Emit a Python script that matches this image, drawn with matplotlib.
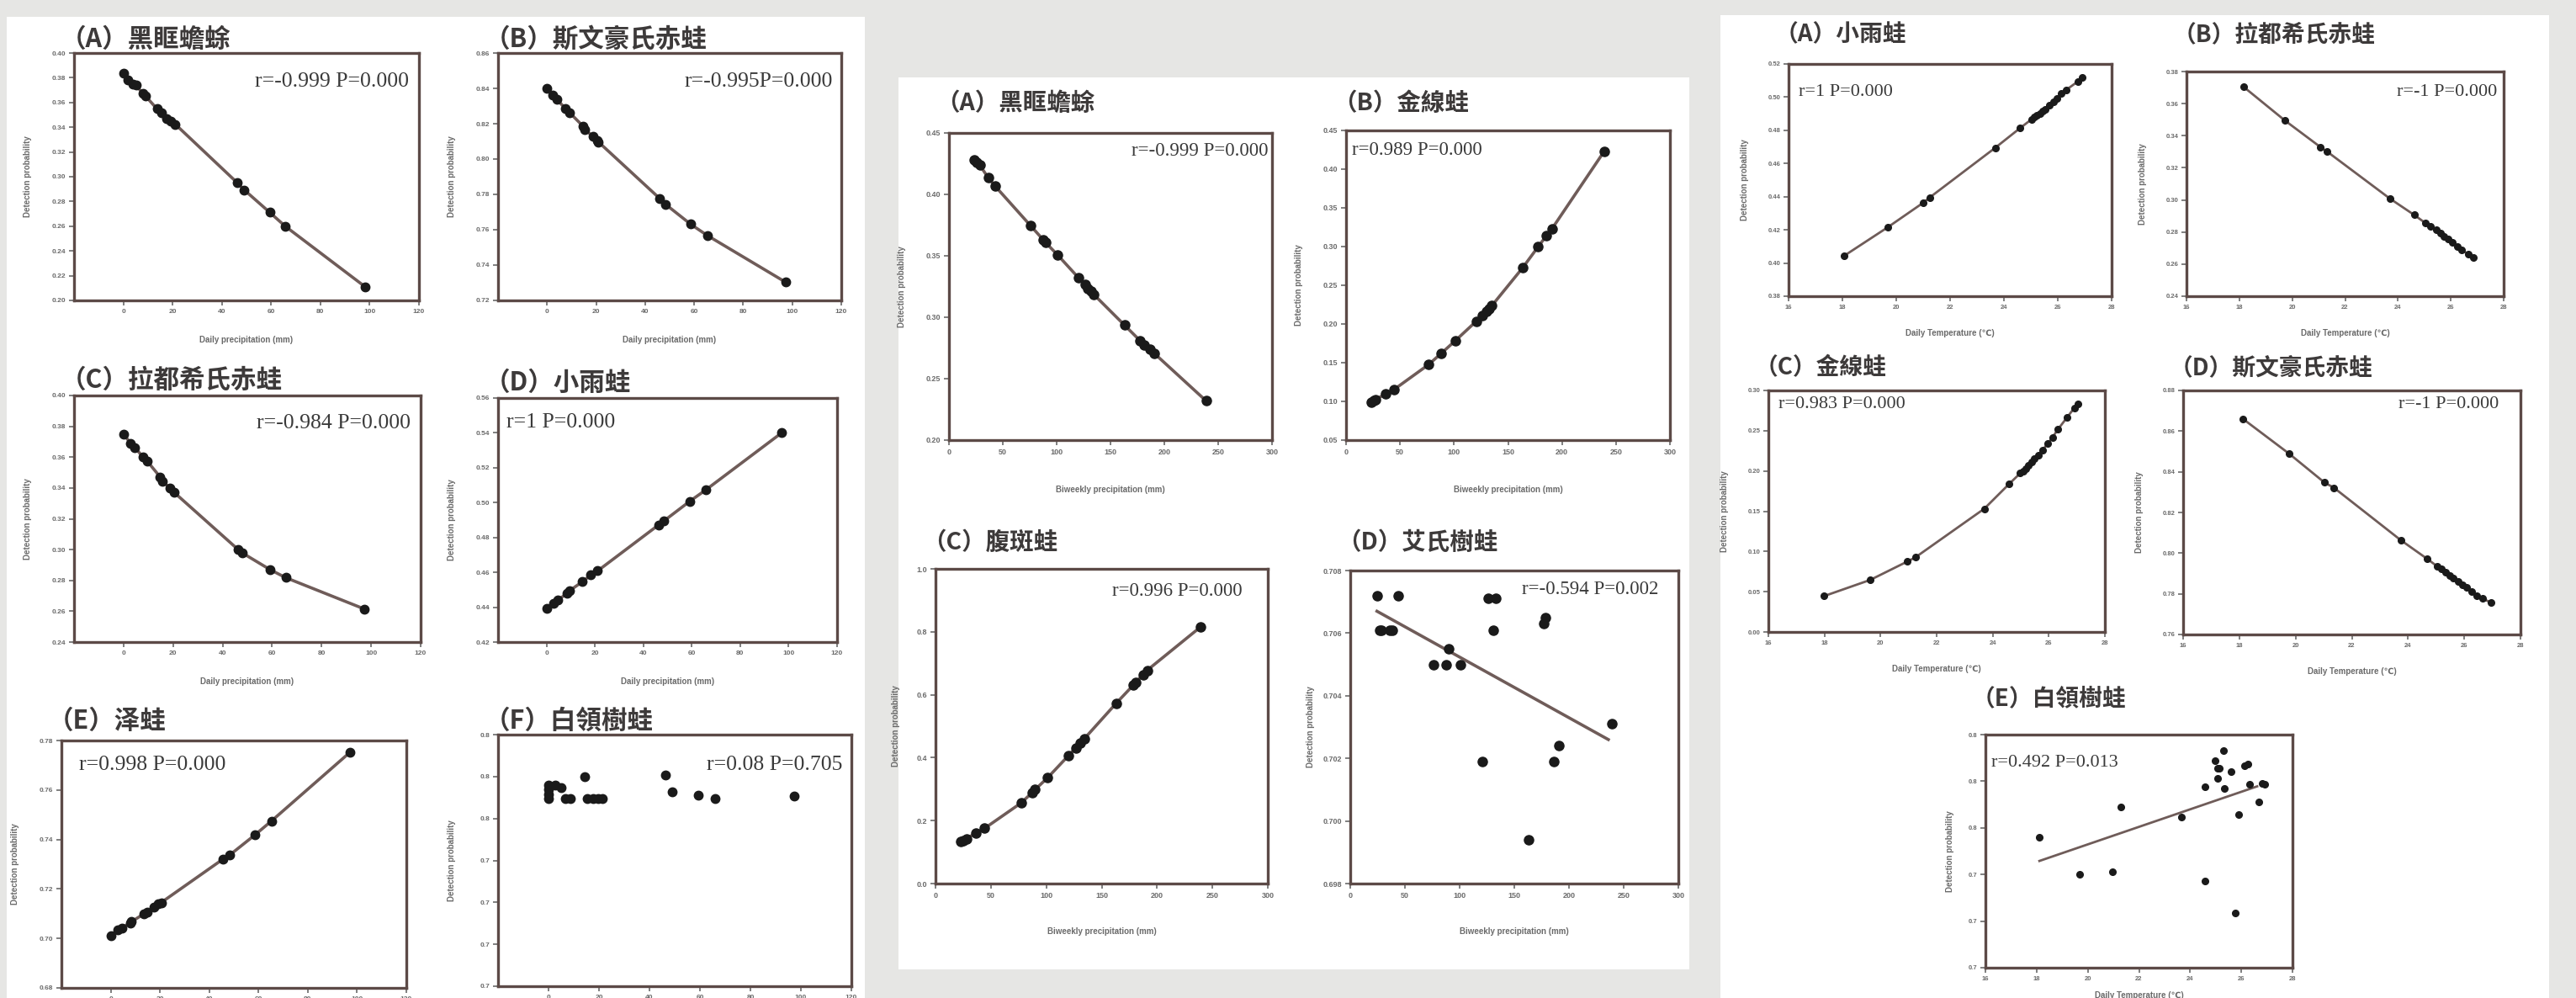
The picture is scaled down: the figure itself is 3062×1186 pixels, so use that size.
import matplotlib
matplotlib.use("Agg")
import numpy as np
import matplotlib.pyplot as plt
from matplotlib.patches import Rectangle

# ==========================================================
# Data
# ==========================================================

# --- left block: daily precipitation ---
left_a_x = [0, 1.7, 4, 5.1, 8, 9.1, 13.7, 15.4, 17.7, 19.4, 21.1, 46.3, 49.1, 59.4, 65.7, 98.3]
left_a_y = [0.3835, 0.3785, 0.3751, 0.374, 0.3672, 0.365, 0.3548, 0.3514, 0.3469, 0.3446,
            0.3424, 0.295, 0.2893, 0.2712, 0.26, 0.2108]

left_b_x = [0, 2.3, 4, 7.4, 9.1, 14.8, 15.3, 18.75, 20.5, 21, 46, 48.3, 58.5, 65.3, 97.2]
left_b_y = [0.84, 0.836, 0.8336, 0.8288, 0.8264, 0.8184, 0.8168, 0.8128, 0.8104, 0.8096,
            0.7776, 0.7744, 0.7632, 0.7568, 0.7304]

left_c_x = [0, 2.8, 4.5, 7.9, 9.6, 14.7, 15.8, 18.6, 20.3, 46.3, 48, 59.3, 65.5, 97.2]
left_c_y = [0.3749, 0.3691, 0.3664, 0.36, 0.3573, 0.3473, 0.3445, 0.34, 0.3373, 0.30,
            0.2978, 0.2869, 0.2818, 0.2615]

left_d_x = [0, 2.9, 4.6, 8.6, 9.7, 14.9, 18.3, 21.1, 46.3, 48.6, 59.2, 65.7, 97.1]
left_d_y = [0.4392, 0.4424, 0.444, 0.448, 0.4496, 0.4547, 0.4584, 0.4608, 0.4872, 0.4896,
            0.5008, 0.5072, 0.54]

left_e_x = [0, 2.8, 4.5, 8, 8.5, 13.6, 14.8, 17.6, 19.3, 20.5, 45.5, 48.3, 58.5, 65.3, 97.2]
left_e_y = [0.7011, 0.7034, 0.7043, 0.7063, 0.7068, 0.71, 0.7105, 0.7128, 0.7139, 0.7145,
            0.732, 0.7337, 0.7418, 0.7475, 0.7753]

left_f_x = [0, 0, 0, 0, 2.7, 4.9, 6.6, 8.8, 14.3, 15.4, 17.6, 19.8, 21.4, 46.2, 48.9, 59.3, 65.9, 97.3]
left_f_y = [0.776, 0.774, 0.7717, 0.7696, 0.776, 0.7747, 0.7696, 0.7696, 0.78, 0.7696,
            0.7696, 0.7696, 0.7696, 0.7807, 0.7727, 0.7713, 0.7696, 0.7707]

# --- middle block: biweekly precipitation ---
mid_a_x = [23.5, 26.1, 28.7, 36.5, 43, 75.6, 87.4, 89.5, 100.9, 120, 126.5, 129.1, 131.7,
           134.3, 163, 177.4, 181.3, 186.5, 190.4, 238.7]
mid_a_y = [0.4283, 0.426, 0.4237, 0.4135, 0.4066, 0.3747, 0.3632, 0.361, 0.3507, 0.3324,
           0.3267, 0.3233, 0.321, 0.3187, 0.2936, 0.281, 0.2776, 0.2742, 0.2708, 0.232]

mid_b_x = [23.4, 25.5, 27.3, 36.9, 44.2, 76.6, 88.3, 101.3, 120.8, 126, 129.9, 132.5, 135.1,
           163.6, 177.9, 185.7, 190.9, 239]
mid_b_y = [0.0988, 0.1006, 0.1024, 0.1097, 0.1151, 0.1477, 0.1622, 0.1785, 0.2038, 0.2111,
           0.2165, 0.2201, 0.2237, 0.2726, 0.2997, 0.3142, 0.3233, 0.4228]

mid_c_x = [22.8, 25.3, 27.8, 36.7, 44.3, 77.2, 87.3, 89.9, 101.3, 120.3, 126.6, 130.4, 134.2,
           163.3, 178.5, 181, 187.3, 191.1, 239.2]
mid_c_y = [0.1327, 0.1374, 0.1422, 0.1611, 0.1754, 0.2559, 0.2891, 0.2986, 0.3365, 0.4076,
           0.4313, 0.4455, 0.4597, 0.5735, 0.6303, 0.6398, 0.6635, 0.6777, 0.8152]

mid_d_x = [24.4, 43.6, 26.9, 28.2, 35.9, 38.5, 90.3, 76.2, 87.9, 100.8, 126.4, 133.3, 130.8,
           120.5, 178.2, 176.9, 162.8, 185.9, 190.5, 239.2]
mid_d_y = [0.7072, 0.7072, 0.7061, 0.7061, 0.7061, 0.7061, 0.7055, 0.7050, 0.7050, 0.7050,
           0.7071, 0.7071, 0.7061, 0.7019, 0.7065, 0.7063, 0.6994, 0.7019, 0.7024, 0.7031]
mid_d_fit_x = [24.4, 236.0]
mid_d_fit_y = [0.7067, 0.7026]

# --- right block: daily temperature ---
right_a_x = [18.06, 19.68, 20.99, 21.25, 23.68, 24.59, 25.03, 25.13, 25.23, 25.33, 25.43,
             25.54, 25.7, 25.84, 25.98, 26.14, 26.3, 26.75, 26.91]
right_a_y = [0.4043, 0.4215, 0.4362, 0.4396, 0.4695, 0.4812, 0.4867, 0.4878, 0.4889, 0.49,
             0.4914, 0.4928, 0.495, 0.4973, 0.4992, 0.502, 0.5042, 0.5095, 0.5117]

right_b_x = [18.15, 19.73, 21.07, 21.33, 23.69, 24.62, 25.03, 25.23, 25.44, 25.6, 25.74,
             25.89, 26.05, 26.26, 26.42, 26.67, 26.87]
right_b_y = [0.3706, 0.3494, 0.3329, 0.33, 0.3009, 0.2906, 0.2857, 0.2837, 0.2814, 0.2794,
             0.2774, 0.2757, 0.2734, 0.2709, 0.2686, 0.2663, 0.2643]

right_c_x = [17.99, 19.63, 20.95, 21.24, 23.7, 24.59, 24.98, 25.08, 25.18, 25.28, 25.38,
             25.48, 25.62, 25.77, 25.97, 26.13, 26.32, 26.66, 26.91, 27.05]
right_c_y = [0.0446, 0.0646, 0.0874, 0.0926, 0.1531, 0.184, 0.1971, 0.2, 0.2029, 0.2069,
             0.2114, 0.2154, 0.22, 0.2257, 0.2343, 0.2417, 0.2514, 0.2669, 0.2783, 0.2829]

right_d_x = [18.13, 19.78, 21.03, 21.36, 23.74, 24.67, 25.04, 25.2, 25.35, 25.49, 25.62,
             25.78, 25.93, 26.07, 26.26, 26.45, 26.65, 26.94]
right_d_y = [0.866, 0.8488, 0.8347, 0.8322, 0.8064, 0.7973, 0.7935, 0.7921, 0.7905, 0.7889,
             0.7876, 0.786, 0.7844, 0.7831, 0.781, 0.7792, 0.7776, 0.7758]

right_e_x = [18.11, 19.68, 20.98, 21.28, 23.66, 24.59, 24.59, 24.99, 25.08, 25.13, 25.08,
             25.29, 25.35, 25.59, 25.77, 25.89, 26.13, 26.25, 26.31, 26.67, 26.82, 26.92]
right_e_y = [0.756, 0.74, 0.741, 0.7688, 0.7646, 0.7776, 0.7373, 0.7888, 0.7855, 0.7855,
             0.7812, 0.7931, 0.777, 0.7842, 0.7234, 0.7657, 0.7867, 0.7875, 0.7788, 0.7712,
             0.7792, 0.7788]
right_e_fit_x = [18.11, 26.62]
right_e_fit_y = [0.7458, 0.7778]

# ==========================================================
# Text
# ==========================================================

left_titles = ["（A）黑眶蟾蜍", "（B）斯文豪氏赤蛙", "（C）拉都希氏赤蛙",
               "（D）小雨蛙", "（E）泽蛙", "（F）白領樹蛙"]
left_stats = ["r=-0.999 P=0.000", "r=-0.995P=0.000", "r=-0.984 P=0.000",
              "r=1 P=0.000", "r=0.998 P=0.000", "r=0.08 P=0.705"]

mid_titles = ["（A）黑眶蟾蜍", "（B）金線蛙", "（C）腹斑蛙", "（D）艾氏樹蛙"]
mid_stats = ["r=-0.999 P=0.000", "r=0.989 P=0.000", "r=0.996 P=0.000", "r=-0.594 P=0.002"]

right_titles = ["（A）小雨蛙", "（B）拉都希氏赤蛙", "（C）金線蛙",
                "（D）斯文豪氏赤蛙", "（E）白領樹蛙"]
right_stats = ["r=1 P=0.000", "r=-1 P=0.000", "r=0.983 P=0.000", "r=-1 P=0.000", "r=0.492 P=0.013"]

left_xlabel = "Daily precipitation (mm)"
mid_xlabel = "Biweekly precipitation (mm)"
right_xlabel = "Daily Temperature (℃)"
ylabel = "Detection probability"

# ==========================================================
# Figure
# ==========================================================

W, H = 3062, 1186
fig = plt.figure(figsize=(W / 100, H / 100), dpi=100)
fig.patch.set_facecolor("#e6e6e4")

CJK = ["Noto Sans CJK TC", "DejaVu Sans"]
SERIF = ["Liberation Serif", "DejaVu Serif"]
SANS = ["Liberation Sans", "DejaVu Sans"]

FRAME = "#5c4a47"
CURVE = "#6f5c59"

# white backing panels (pixel boxes: x0, y0, x1, y1)
for x0, y0, x1, y1 in [(8, 20, 1028, 1186), (1068, 92, 2008, 1152), (2045, 18, 3030, 1186)]:
    fig.add_artist(Rectangle((x0 / W, 1 - y1 / H), (x1 - x0) / W, (y1 - y0) / H,
                             transform=fig.transFigure, facecolor="white",
                             edgecolor="none", zorder=0))


def panel(box, title, title_y, xs, ys, xlim, xticks, yticks, yfmt, stat, stat_pos,
          xlabel, line="data", fit=None, ms=7.5, lw=2.6, tfs=22, sfs=18.5, tickfs=6,
          ylab_dx=50, xlab_dy=42):
    x0, y0, x1, y1 = box
    ax = fig.add_axes([x0 / W, 1 - y1 / H, (x1 - x0) / W, (y1 - y0) / H])

    if line == "data":
        order = np.argsort(xs)
        ax.plot(np.array(xs)[order], np.array(ys)[order], color=CURVE, lw=lw, zorder=2)
    elif line == "fit":
        ax.plot(fit[0], fit[1], color=CURVE, lw=lw, zorder=2)
    ax.plot(xs, ys, "o", color="#1a1a1a", ms=ms, zorder=3)

    ax.set_xlim(*xlim)
    ax.set_ylim(yticks[0], yticks[-1])
    ax.set_xticks(xticks)
    ax.set_yticks(yticks)
    ax.set_yticklabels([yfmt % v for v in yticks])
    ax.tick_params(labelsize=tickfs, colors="#6a6a6a", length=4, width=1.2, pad=3)
    for lab in ax.get_xticklabels() + ax.get_yticklabels():
        lab.set_family(SANS)
        lab.set_fontweight("bold")

    for s in ax.spines.values():
        s.set_color(FRAME)
        s.set_linewidth(2.4)

    if xlabel:
        ax.set_xlabel(xlabel, fontsize=7, family=SANS, color="#6a6a6a", fontweight="bold")
        ax.xaxis.set_label_coords(0.5, -xlab_dy / (y1 - y0))
    ax.set_ylabel(ylabel, fontsize=7, family=SANS, color="#6a6a6a", fontweight="bold")
    ax.yaxis.set_label_coords(-ylab_dx / (x1 - x0), 0.5)

    ha = "right" if stat_pos[0] > 0.5 else "left"
    ax.text(stat_pos[0], stat_pos[1], stat, transform=ax.transAxes, ha=ha, va="center",
            fontsize=sfs, family=SERIF, color="#3a3a3a")

    fig.text((x0 - 16) / W, 1 - title_y / H, title, ha="left", va="center",
             fontsize=tfs, family=CJK, fontweight="bold", color="#3d3a3a")
    return ax


# ==========================================================
# Left block
# ==========================================================

lx = (-20, 120)
lxt = [0, 20, 40, 60, 80, 100, 120]

panel((88, 63, 498, 357), left_titles[0], 47, left_a_x, left_a_y, lx, lxt,
      list(np.round(np.arange(0.20, 0.401, 0.02), 2)), "%.2f", left_stats[0], (0.97, 0.886),
      left_xlabel)
panel((592, 63, 1000, 357), left_titles[1], 47, left_b_x, left_b_y, lx, lxt,
      list(np.round(np.arange(0.72, 0.861, 0.02), 2)), "%.2f", left_stats[1], (0.976, 0.886),
      left_xlabel)
panel((88, 470, 500, 763), left_titles[2], 452, left_c_x, left_c_y, lx, lxt,
      list(np.round(np.arange(0.24, 0.401, 0.02), 2)), "%.2f", left_stats[2], (0.971, 0.886),
      left_xlabel)
panel((592, 473, 995, 763), left_titles[3], 455, left_d_x, left_d_y, lx, lxt,
      list(np.round(np.arange(0.42, 0.561, 0.02), 2)), "%.2f", left_stats[3], (0.025, 0.90),
      left_xlabel)
# the bottom row is cropped in the source, so its x labels fall off the page
panel((73, 880, 483, 1174), left_titles[4], 857, left_e_x, left_e_y, lx, lxt,
      list(np.round(np.arange(0.68, 0.781, 0.02), 2)), "%.2f", left_stats[4], (0.05, 0.90),
      None)
panel((592, 873, 1012, 1172), left_titles[5], 857, left_f_x, left_f_y, lx, lxt,
      list(np.round(np.arange(0.68, 0.801, 0.02), 2)), "%.1f", left_stats[5], (0.975, 0.88),
      None, line=None)

# ==========================================================
# Middle block
# ==========================================================

mx = (0, 300)
mxt = [0, 50, 100, 150, 200, 250, 300]
mkw = dict(ms=8, tfs=20.5, sfs=16.5, tickfs=6.5)

panel((1128, 158, 1512, 523), mid_titles[0], 123, mid_a_x, mid_a_y, mx, mxt,
      list(np.round(np.arange(0.20, 0.451, 0.05), 2)), "%.2f", mid_stats[0], (0.987, 0.94),
      mid_xlabel, ylab_dx=51, xlab_dy=54, **mkw)
panel((1600, 155, 1985, 523), mid_titles[1], 123, mid_b_x, mid_b_y, mx, mxt,
      list(np.round(np.arange(0.05, 0.451, 0.05), 2)), "%.2f", mid_stats[1], (0.017, 0.937),
      mid_xlabel, ylab_dx=51, xlab_dy=54, **mkw)
panel((1112, 676, 1507, 1050), mid_titles[2], 645, mid_c_x, mid_c_y, mx, mxt,
      list(np.round(np.arange(0.0, 1.01, 0.2), 1)), "%.1f", mid_stats[2], (0.924, 0.93),
      mid_xlabel, ylab_dx=42, xlab_dy=52, **mkw)
panel((1605, 678, 1995, 1050), mid_titles[3], 645, mid_d_x, mid_d_y, mx, mxt,
      list(np.round(np.arange(0.698, 0.7081, 0.002), 3)), "%.3f", mid_stats[3], (0.94, 0.94),
      mid_xlabel, line="fit", fit=(mid_d_fit_x, mid_d_fit_y), ylab_dx=42, xlab_dy=52, **mkw)

# ==========================================================
# Right block
# ==========================================================

rx = (16, 28)
rxt = [16, 18, 20, 22, 24, 26, 28]
rkw = dict(ms=5.5, lw=2.0, tfs=20, sfs=16, tickfs=5.5, ylab_dx=47, xlab_dy=39)

panel((2126, 76, 2510, 352), right_titles[0], 41, right_a_x, right_a_y, rx, rxt,
      list(np.round(np.arange(0.38, 0.521, 0.02), 2)), "%.2f", right_stats[0], (0.03, 0.88),
      right_xlabel, **rkw)
panel((2599, 85, 2976, 352), right_titles[1], 41, right_b_x, right_b_y, rx, rxt,
      list(np.round(np.arange(0.24, 0.381, 0.02), 2)), "%.2f", right_stats[1], (0.98, 0.91),
      right_xlabel, **rkw)
panel((2102, 464, 2502, 751), right_titles[2], 437, right_c_x, right_c_y, rx, rxt,
      list(np.round(np.arange(0.0, 0.301, 0.05), 2)), "%.2f", right_stats[2], (0.03, 0.943),
      right_xlabel, **rkw)
panel((2595, 464, 2996, 754), right_titles[3], 437, right_d_x, right_d_y, rx, rxt,
      list(np.round(np.arange(0.76, 0.881, 0.02), 2)), "%.2f", right_stats[3], (0.935, 0.943),
      right_xlabel, **rkw)
panel((2360, 873, 2725, 1150), right_titles[4], 830, right_e_x, right_e_y, rx, rxt,
      list(np.round(np.arange(0.70, 0.801, 0.02), 2)), "%.1f", right_stats[4], (0.02, 0.88),
      right_xlabel, line="fit", fit=(right_e_fit_x, right_e_fit_y),
      **dict(rkw, ylab_dx=37, xlab_dy=28))

fig.savefig("out.png", dpi=100, facecolor=fig.get_facecolor())
print("saved out.png")
